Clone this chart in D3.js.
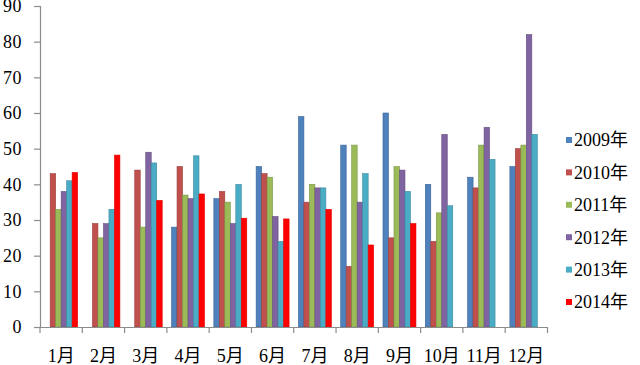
<!DOCTYPE html>
<html>
<head>
<meta charset="utf-8">
<script src="https://cdn.jsdelivr.net/npm/d3@7"></script>
<style>
  body { margin: 0; background: #fff; }
  text { font-family: "Liberation Serif", "Times New Roman", "Noto Sans CJK SC", serif; fill: #000; }
</style>
</head>
<body>
<svg id="svg" width="640" height="365"></svg>
<script>
// months on the x axis
var months = ["1月", "2月", "3月", "4月", "5月", "6月", "7月", "8月", "9月", "10月", "11月", "12月"];
var years = ["2009年", "2010年", "2011年", "2012年", "2013年", "2014年"];
var yTicks = [0, 10, 20, 30, 40, 50, 60, 70, 80, 90];

// one array per year, null = no bar
var v2009 = [null, null, null, 28, 36, 45, 59, 51, 60, 40, 42, 45];
var v2010 = [43, 29, 44, 45, 38, 43, 35, 17, 25, 24, 39, 50];
var v2011 = [33, 25, 28, 37, 35, 42, 40, 51, 45, 32, 51, 51];
var v2012 = [38, 29, 49, 36, 29, 31, 39, 35, 44, 54, 56, 82];
var v2013 = [41, 33, 46, 48, 40, 24, 39, 43, 38, 34, 47, 54];
var v2014 = [43.3, 48.2, 35.5, 37.3, 30.5, 30.3, 33, 23, 29, null, null, null];

var series = [v2009, v2010, v2011, v2012, v2013, v2014];
var colors = ["#4F81BD", "#C0504D", "#9BBB59", "#8064A2", "#4BACC6", "#FF0000"];
var strokes = ["#3A6596", "#983E3B", "#7A9546", "#65507F", "#3A899E", "#E00000"];

var svg = d3.select("#svg");

// note: "top" is taken by window.top, so use other names
var plotLeft = 40, plotRight = 547.5, plotTop = 6, plotBottom = 327;

var xScale = d3.scaleBand()
    .domain(months)
    .range([plotLeft, plotRight])
    .padding(0);

var xInner = d3.scaleBand()
    .domain(years)
    .range([0, xScale.bandwidth()])
    .paddingInner(0)
    .paddingOuter(0.85);

var yScale = d3.scaleLinear()
    .domain([0, 90])
    .range([plotBottom, plotTop]);

// flatten into bars
var bars = [];
series.forEach(function(s, i) {
    s.forEach(function(v, j) {
        if (v != null) bars.push({year: years[i], month: months[j], value: v, idx: i});
    });
});

svg.selectAll("rect.bar")
    .data(bars)
    .enter()
    .append("rect")
    .attr("class", "bar")
    .attr("x", function(d) { return xScale(d.month) + xInner(d.year); })
    .attr("width", xInner.bandwidth())
    .attr("y", function(d) { return yScale(d.value); })
    .attr("height", function(d) { return plotBottom - yScale(d.value); })
    .attr("fill", function(d) { return colors[d.idx]; })
    .attr("stroke", function(d) { return strokes[d.idx]; })
    .attr("stroke-width", 0.6);

//////////////////////////////////////////////
// Axes

var yAxis = svg.append("g")
    .attr("transform", "translate(" + plotLeft + ",0)")
    .call(d3.axisLeft(yScale).tickValues(yTicks).tickSize(6).tickPadding(12));

var xAxis = svg.append("g")
    .attr("transform", "translate(0," + plotBottom + ")")
    .call(d3.axisBottom(xScale).tickSize(0).tickPadding(22));

// category boundary ticks like excel
xAxis.selectAll("line.sep")
    .data(d3.range(months.length + 1))
    .enter()
    .append("line")
    .attr("class", "sep")
    .attr("x1", function(i) { return plotLeft + i * xScale.step(); })
    .attr("x2", function(i) { return plotLeft + i * xScale.step(); })
    .attr("y1", 0)
    .attr("y2", 6);

svg.selectAll(".domain, .tick line, line.sep")
    .attr("stroke", "#8c8c8c")
    .attr("stroke-width", 1.2);

// d3 axis puts font-family on the g, drop it so the css rule wins
svg.selectAll("g").attr("font-family", null);

yAxis.selectAll(".tick text")
    .style("font-size", "18px")
    .style("letter-spacing", "0.5px")
    .attr("fill", "#000");

xAxis.selectAll(".tick text")
    .style("font-size", "18px")
    .attr("fill", "#000");

//////////////////////////////////////////////
// Legend

var legend = svg.selectAll("g.leg")
    .data(years)
    .enter()
    .append("g")
    .attr("class", "leg")
    .attr("transform", function(d, i) { return "translate(566," + (140 + i * 32.4) + ")"; });

legend.append("rect")
    .attr("x", 0)
    .attr("y", -3)
    .attr("width", 6)
    .attr("height", 6)
    .attr("fill", function(d, i) { return colors[i]; });

legend.append("text")
    .attr("x", 8)
    .attr("dy", "0.35em")
    .style("font-size", "18px")
    .text(function(d) { return d; });
</script>
</body>
</html>
